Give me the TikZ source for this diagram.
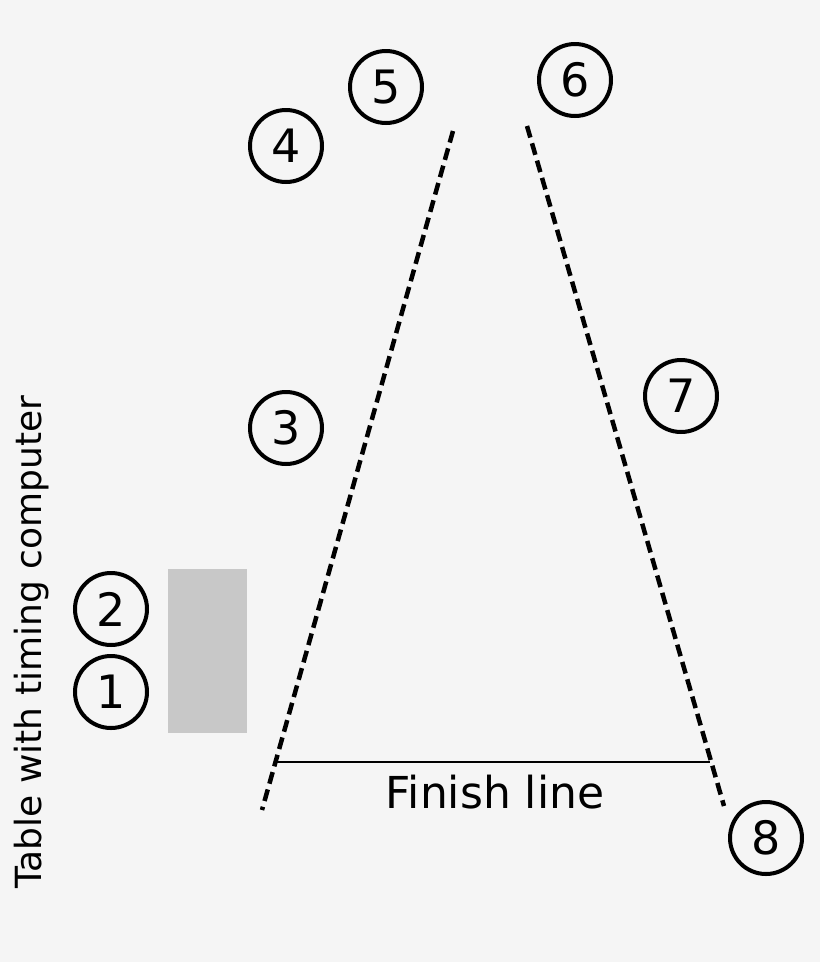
\documentclass[tikz,border=0pt]{standalone}
\usepackage{fontspec}
\setmainfont{DejaVu Sans}
\begin{document}
\begin{tikzpicture}[x=1pt,y=-1pt,
  num/.style={circle,draw=black,line width=4pt,minimum size=72pt,inner sep=0pt,font=\fontsize{46}{50}\selectfont},
  dashline/.style={line width=4.5pt,dash pattern=on 12pt off 6pt}]
\fill[fill={rgb,255:red,245;green,245;blue,245}] (0,0) rectangle (820,962);
\useasboundingbox (0,0) rectangle (820,962);
\fill[fill={rgb,255:red,200;green,200;blue,200}] (168,569) rectangle (247,733);
\node[num] (n5) at (386,87) {5};
\node[num] (n6) at (575,80) {6};
\node[num] (n4) at (286,146) {4};
\node[num] (n3) at (286,428) {3};
\node[num] (n7) at (681,396) {7};
\node[num] (n2) at (111,609) {2};
\node[num] (n1) at (111,692) {1};
\node[num] (n8) at (766,838) {8};
\coordinate (lt) at (453,131); \coordinate (lb) at (262,810);
\coordinate (rt) at (527,126); \coordinate (rb) at (724,806);
\draw[dashline] (lt) -- (lb);
\draw[dashline] (rt) -- (rb);
\coordinate (fa) at (276,762); \coordinate (fb) at (710,762);
\draw[line width=2pt] (fa) -- (fb);
\node[font=\fontsize{44}{48}\selectfont] (fin) at (495,792) {Finish line};
\node[rotate=90,font=\fontsize{36}{40}\selectfont] (tab) at (32,642) {Table with timing computer};
\end{tikzpicture}
\end{document}
